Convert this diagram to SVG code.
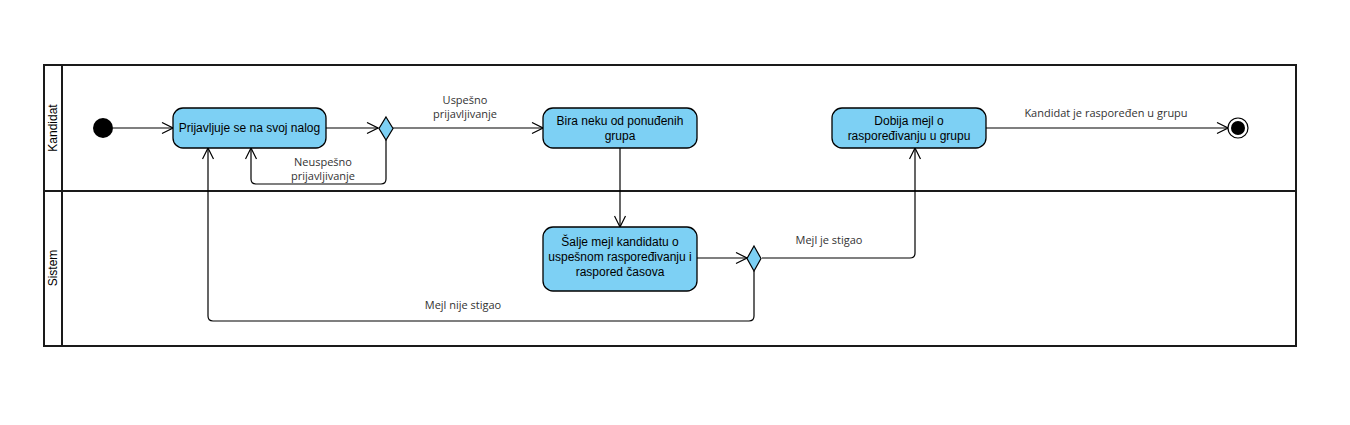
<svg xmlns="http://www.w3.org/2000/svg" width="1350" height="425" viewBox="0 0 1350 425">
<style>
.lane{fill:none;stroke:#1a1a1a;stroke-width:2}
.act{fill:#7dd0f4;stroke:#000;stroke-width:1.3}
.dec{fill:#7dd0f4;stroke:#000;stroke-width:1.2}
.nt{font-family:"Liberation Sans",Arial,sans-serif;font-size:12px;fill:#000;text-anchor:middle}
.lt{font-family:"Liberation Sans",Arial,sans-serif;font-size:12px;fill:#000;text-anchor:middle}
.el{font-family:"Open Sans","DejaVu Sans",sans-serif;font-size:11px;fill:#333;text-anchor:middle}
.c{fill:none;stroke:#000;stroke-width:1.2;marker-end:url(#arr)}
</style>
<defs>
<marker id="arr" markerWidth="13" markerHeight="13" refX="12" refY="6.5" orient="auto" markerUnits="userSpaceOnUse">
<path d="M1,1 L12,6.5 L1,12" fill="none" stroke="#000" stroke-width="1.2"/>
</marker>
</defs>
<rect width="1350" height="425" fill="#fff"/>
<g id="pool">
<rect class="lane" x="44" y="65" width="1252" height="281"/>
<line class="lane" x1="62" y1="65" x2="62" y2="346"/>
<line class="lane" x1="44" y1="191" x2="1296" y2="191"/>
<text class="lt" transform="translate(57,128) rotate(-90)">Kandidat</text>
<text class="lt" transform="translate(57,268) rotate(-90)">Sistem</text>
</g>
<g id="connectors">
<path class="c" d="M113,128 L173,128"/>
<path class="c" d="M326,128 L378,128"/>
<path class="c" d="M386,140 L386,179 Q386,184 381,184 L256,184 Q251,184 251,179 L251,148"/>
<path class="c" d="M393,128 L543,128"/>
<path class="c" d="M620,148 L620,227"/>
<path class="c" d="M697,258 L747,258"/>
<path class="c" d="M762,258 L910,258 Q915,258 915,253 L915,148"/>
<path class="c" d="M754,271 L754,316 Q754,321 749,321 L213,321 Q208,321 208,316 L208,148"/>
<path class="c" d="M986,128 L1228,128"/>
<text class="el" x="465" y="104">Uspešno</text>
<text class="el" x="465" y="118">prijavljivanje</text>
<text class="el" x="323" y="166">Neuspešno</text>
<text class="el" x="323" y="180">prijavljivanje</text>
<text class="el" x="829" y="244">Mejl je stigao</text>
<text class="el" x="463" y="309">Mejl nije stigao</text>
<text class="el" x="1106" y="117">Kandidat je raspoređen u grupu</text>
</g>
<g id="start"><circle cx="103" cy="128" r="10" fill="#000"/></g>
<g id="n1"><rect class="act" x="173" y="108" width="153" height="40" rx="10"/><text class="nt" x="249.5" y="132">Prijavljuje se na svoj nalog</text></g>
<g id="d1"><polygon class="dec" points="386,117 393,128.5 386,140 379,128.5"/></g>
<g id="n2"><rect class="act" x="543" y="108" width="154" height="40" rx="10"/><text class="nt" x="620" y="125">Bira neku od ponuđenih</text><text class="nt" x="620" y="140">grupa</text></g>
<g id="n3"><rect class="act" x="543" y="227" width="154" height="64" rx="10"/><text class="nt" x="620" y="246">Šalje mejl kandidatu o</text><text class="nt" x="620" y="261">uspešnom raspoređivanju i</text><text class="nt" x="620" y="276">raspored časova</text></g>
<g id="d2"><polygon class="dec" points="754,246 761,258.5 754,271 747,258.5"/></g>
<g id="n4"><rect class="act" x="832" y="108" width="154" height="40" rx="10"/><text class="nt" x="909" y="125">Dobija mejl o</text><text class="nt" x="909" y="140">raspoređivanju u grupu</text></g>
<g id="end"><circle cx="1238" cy="128" r="10" fill="#fff" stroke="#000" stroke-width="1.2"/><circle cx="1238" cy="128" r="7" fill="#000"/></g>
</svg>
